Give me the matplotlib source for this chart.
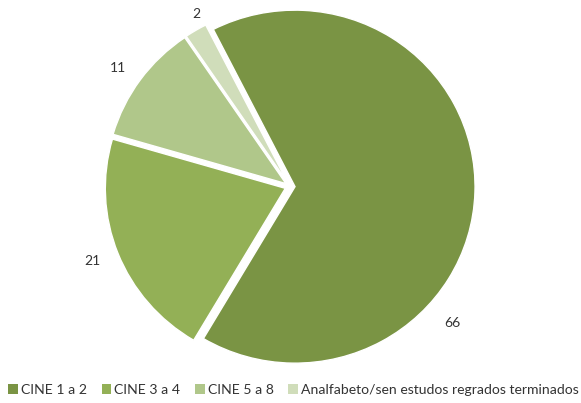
import numpy as np
import matplotlib
matplotlib.use('Agg')
import matplotlib.pyplot as plt
from matplotlib.patches import Patch

categories = ['CINE 1 a 2', 'CINE 3 a 4', 'CINE 5 a 8',
              'Analfabeto/sen estudos regrados terminados']
values = [66, 21, 11, 2]
colors = ['#7A9444', '#93B056', '#B0C78A', '#D0DDBA']

# label placement (degrees, radius) - excel "best fit" spots
label_angles = [-40.6, 201.0, 145.0, 118.0]
label_radius = [1.19, 1.175, 1.168, 1.11]

plt.rcParams['font.family'] = ['Lato', 'DejaVu Sans']

fig = plt.figure(figsize=(5.81, 4.03), dpi=100)
ax = fig.add_axes([0, 0, 1, 1])

wedges, _ = ax.pie(values, colors=colors, startangle=117, counterclock=False,
                   explode=[0.028] * 4, radius=1.0,
                   wedgeprops=dict(edgecolor='white', linewidth=1.0))

for v, a, r in zip(values, label_angles, label_radius):
    t = np.deg2rad(a)
    ax.text(r * np.cos(t), r * np.sin(t), str(v), ha='center', va='center',
            fontsize=10, color='#333333')

# pixel mapping: 1 unit = 180 px horiz, 176.5 px vert, centre at (290, 186.5)
ax.set_aspect('auto')
ax.set_xlim(-290 / 180, (581 - 290) / 180)
ax.set_ylim(-(403 - 186.5) / 176.5, 186.5 / 176.5)
ax.axis('off')

handles = [Patch(facecolor=c, edgecolor='none') for c in colors]
ax.legend(handles, categories, loc='center', bbox_to_anchor=(0.505, 0.032),
          ncol=4, frameon=False, fontsize=10.1, handlelength=0.7,
          handleheight=0.7, handletextpad=0.2, columnspacing=1.05,
          borderaxespad=0, labelcolor='#333333')

fig.savefig('out.png', dpi=100)
